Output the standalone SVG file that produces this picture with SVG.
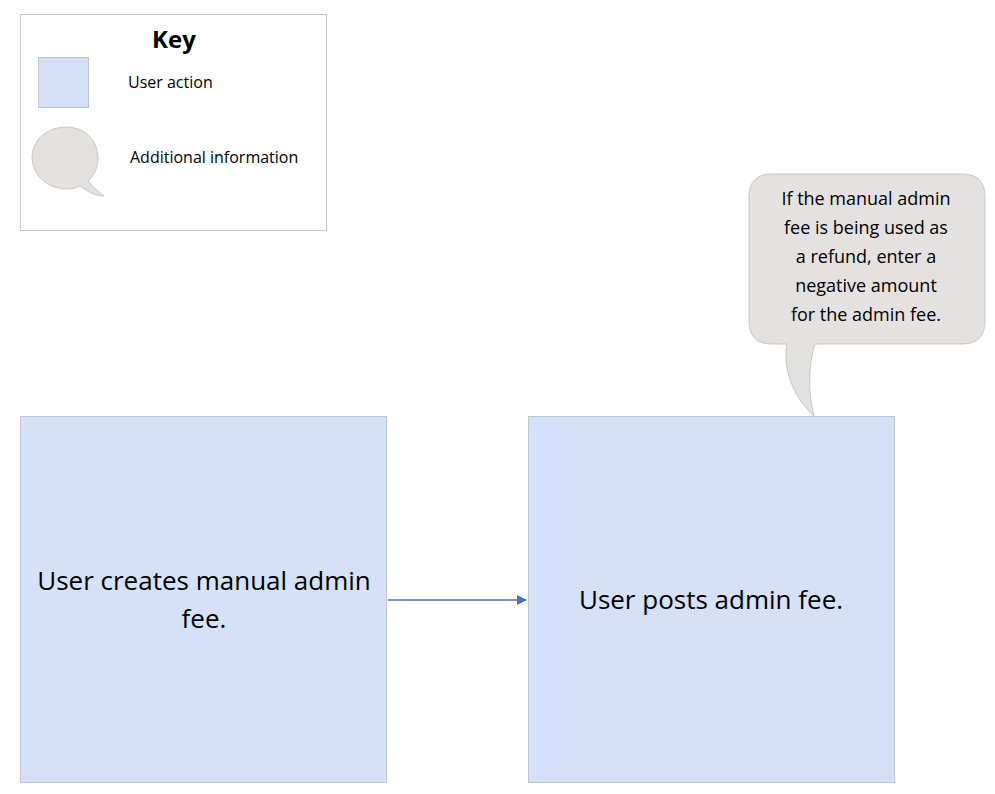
<svg xmlns="http://www.w3.org/2000/svg" width="995" height="794" viewBox="0 0 995 794">
<style>
text{font-family:"Open Sans","Noto Sans","Liberation Sans",sans-serif;fill:#000}
.act{fill:#d4e1f8;stroke:#c0c6d0;stroke-width:1}
.bub{fill:#e4e2e1;stroke:#c8c8c8;stroke-width:1}
</style>
<defs><marker id="ah" markerWidth="10" markerHeight="10" refX="9" refY="5" orient="auto" markerUnits="userSpaceOnUse"><path d="M0,0 L10,5 L0,10 Z" fill="#4472c4"/></marker></defs>
<rect width="995" height="794" fill="#fff"/>
<g id="key">
<rect x="20.5" y="14.5" width="306" height="216" fill="#fff" stroke="#c8c8c8"/>
<text x="174" y="48" font-size="24" font-weight="bold" text-anchor="middle">Key</text>
<rect class="act" x="38.5" y="57.5" width="50" height="50"/>
<text x="128" y="88" font-size="16">User action</text>
<path class="bub" d="M80,186 C64,194 34,186 32,158 C32,136 52,127 66,127 C84,127 98,140 98,158 C98,168 94,176 88,181 C94,188 99,192 104,196 C96,196 88,192 80,186 Z"/>
<text x="130" y="163" font-size="16">Additional information</text>
</g>
<g id="connectors">
<path d="M388,600 L526,600" stroke="#4472c4" stroke-width="1.5" fill="none" marker-end="url(#ah)"/>
</g>
<g id="n1">
<rect class="act" x="20.5" y="416.5" width="366" height="366"/>
<text font-size="26" text-anchor="middle"><tspan x="204" y="590">User creates manual admin</tspan><tspan x="204" y="628">fee.</tspan></text>
</g>
<g id="n2">
<rect class="act" x="528.5" y="416.5" width="366" height="366"/>
<text x="711" y="609" font-size="26" text-anchor="middle">User posts admin fee.</text>
</g>
<g id="callout">
<path class="bub" d="M772,174 L962,174 Q985,174 985,197 L985,321 Q985,344 962,344 L815,344 C808,366 808,392 814,416 C796,400 782,372 787,344 L772,344 Q749,344 749,321 L749,197 Q749,174 772,174 Z"/>
<text font-size="18" text-anchor="middle"><tspan x="866" y="205">If the manual admin</tspan><tspan x="866" y="234">fee is being used as</tspan><tspan x="866" y="263">a refund, enter a</tspan><tspan x="866" y="292">negative amount</tspan><tspan x="866" y="321">for the admin fee.</tspan></text>
</g>
</svg>
